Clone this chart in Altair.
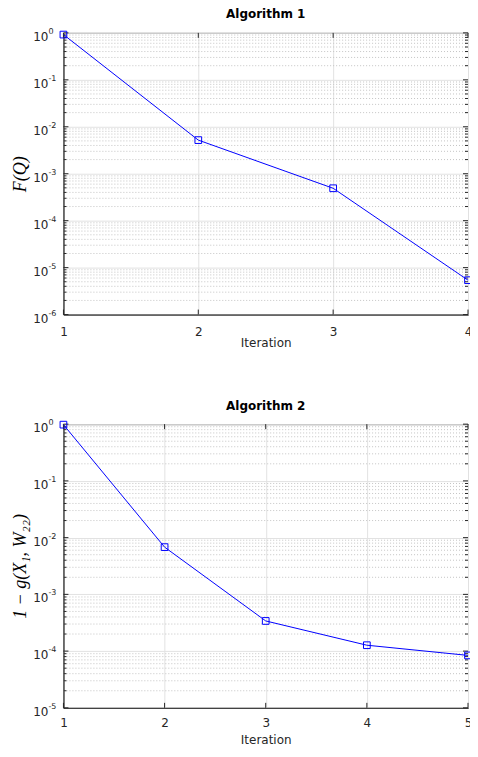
import altair as alt
import pandas as pd

# ---- data ----
alg1_iter = [1, 2, 3, 4]
alg1_val = [0.92, 5.2e-3, 4.9e-4, 5.4e-6]
alg2_iter = [1, 2, 3, 4, 5]
alg2_val = [0.98, 6.8e-3, 3.4e-4, 1.27e-4, 8.4e-5]

alg1_title = "Algorithm 1"
alg2_title = "Algorithm 2"
alg1_ytitle = "F(Q)"
alg2_ytitle = "1 − g(X₁, W₂₂)"
x_title = "Iteration"
alg1_decades = [-6, -5, -4, -3, -2, -1, 0]
alg2_decades = [-5, -4, -3, -2, -1, 0]
alg1_xticks = [1, 2, 3, 4]
alg2_xticks = [1, 2, 3, 4, 5]
minor_steps = [2, 3, 4, 5, 6, 7, 8, 9]

AX = "#262626"
BLUE = "#0000ff"
FONT = "DejaVu Sans"


def panel(iters, vals, decades, xticks, title, ytitle, width, height,
          title_offset, label_pad, title_pad):
    xscale = alt.Scale(domain=[xticks[0], xticks[-1]], nice=False, zero=False)
    yscale = alt.Scale(type="log", domain=[10.0 ** decades[0], 10.0 ** decades[-1]], nice=False)
    xaxis = alt.Axis(values=xticks, format="d", grid=True, gridColor="#e2e2e2",
                     ticks=False, tickSize=0, labelPadding=label_pad, labelFont=FONT,
                     labelFontSize=12, labelColor=AX, labelFlush=False,
                     title=x_title, titleFont=FONT, titleFontSize=12,
                     titleFontWeight="normal", titleColor=AX, titlePadding=title_pad,
                     domainColor=AX)
    yaxis = alt.Axis(values=[10.0 ** d for d in decades], grid=True, gridColor="#e2e2e2",
                     labels=False, ticks=False, tickSize=0, title=ytitle,
                     titleFont="Liberation Serif", titleFontStyle="italic",
                     titleFontWeight="normal", titleFontSize=18, titleColor="black",
                     titlePadding=34, domainColor=AX)
    X = alt.X("x:Q", scale=xscale, axis=xaxis)
    Y = alt.Y("y:Q", scale=yscale, axis=yaxis)

    minor_df = pd.DataFrame({"y": [m * 10.0 ** d for d in decades[:-1] for m in minor_steps]})
    major_df = pd.DataFrame({"y": [10.0 ** d for d in decades],
                             "base": ["10"] * len(decades),
                             "exp": [str(d) for d in decades]})
    xt_df = pd.DataFrame({"x": xticks})
    df = pd.DataFrame({"x": iters, "y": vals})
    title_df = pd.DataFrame({"t": [title]})

    minor_grid = alt.Chart(minor_df).mark_rule(color="#c4c4c4", strokeDash=[1, 2], strokeWidth=1).encode(
        y=Y, x=alt.value(0), x2=alt.value(width))
    minor_l = alt.Chart(minor_df).mark_rule(color=AX).encode(y=Y, x=alt.value(0), x2=alt.value(3))
    minor_r = alt.Chart(minor_df).mark_rule(color=AX).encode(y=Y, x=alt.value(width - 3), x2=alt.value(width))
    major_l = alt.Chart(major_df).mark_rule(color=AX).encode(y=Y, x=alt.value(0), x2=alt.value(5))
    major_r = alt.Chart(major_df).mark_rule(color=AX).encode(y=Y, x=alt.value(width - 5), x2=alt.value(width))
    xt_b = alt.Chart(xt_df).mark_rule(color=AX).encode(x=X, y=alt.value(height), y2=alt.value(height - 5))
    xt_t = alt.Chart(xt_df).mark_rule(color=AX).encode(x=X, y=alt.value(0), y2=alt.value(5))
    lab_base = alt.Chart(major_df).mark_text(align="right", baseline="top", font=FONT, fontSize=12,
                                             color=AX, dy=-1).encode(y=Y, x=alt.value(-15), text="base:N")
    lab_exp = alt.Chart(major_df).mark_text(align="left", baseline="top", font=FONT, fontSize=8,
                                            color=AX, dy=-5).encode(y=Y, x=alt.value(-15), text="exp:N")
    ttl = alt.Chart(title_df).mark_text(align="center", baseline="alphabetic", font=FONT, fontSize=12,
                                        fontWeight="bold", color="black").encode(
        text="t:N", x=alt.value(width / 2), y=alt.value(-title_offset))
    line = alt.Chart(df).mark_line(color=BLUE, strokeWidth=1).encode(x=X, y=Y)
    pts = alt.Chart(df).mark_point(shape="square", filled=False, color=BLUE, size=45,
                                   strokeWidth=1, opacity=1).encode(x=X, y=Y)

    return alt.layer(minor_grid, minor_l, minor_r, major_l, major_r, xt_b, xt_t,
                     lab_base, lab_exp, ttl, line, pts).properties(width=width, height=height)


top = panel(alg1_iter, alg1_val, alg1_decades, alg1_xticks, alg1_title, alg1_ytitle,
            405, 282, 15, 12, 0)
bottom = panel(alg2_iter, alg2_val, alg2_decades, alg2_xticks, alg2_title, alg2_ytitle,
               405, 284, 14, 10, 6)

chart = alt.vconcat(top, bottom, spacing=49.7).configure_view(
    stroke=AX, strokeWidth=1).configure_axis(domainWidth=1, gridWidth=1).properties(
    padding={"left": 2.5, "top": -1.5, "right": -4, "bottom": 0})

chart.save("out.html", embed_options={"renderer": "svg", "actions": False})
